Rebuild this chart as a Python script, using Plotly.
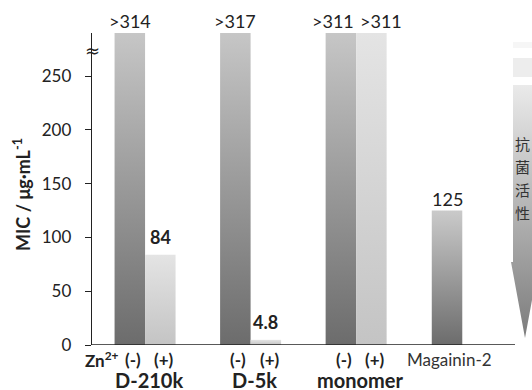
import plotly.graph_objects as go

# ---- data ----
groups = ["D-210k", "D-5k", "monomer"]
mic_minus = [314, 317, 311]          # Zn2+ (-)
mic_plus = [84, 4.8, 311]            # Zn2+ (+)
label_minus = [">314", ">317", ">311"]
label_plus = ["84", "4.8", ">311"]
plus_bold = [True, True, False]
ref_name = "Magainin-2"
ref_value = 125
ref_label = "125"
y_ticks = [0, 50, 100, 150, 200, 250]
y_cap = 290
arrow_text = "抗菌活性"

FONT = "Lato"
TXT = "#222222"

# ---- layout helpers (positions in bar-width units) ----
PX = 30.5                # pixels per x unit
X_MAX = 440 / PX
PY = 312 / y_cap         # pixels per y unit
first_center, step = 1.74, 3.46
centers = [first_center + step * i for i in range(len(groups))]
ref_x = centers[-1] + 2.98
BW = 1.0
ROW1 = -14 / 312
ROW2 = -34.5 / 312

fig = go.Figure()


def bar(xc, value, dark, light):
    top = min(value, y_cap)
    x0, x1 = xc - BW / 2, xc + BW / 2
    fig.add_trace(go.Scatter(
        x=[x0, x1, x1, x0, x0], y=[0, 0, top, top, 0],
        mode="lines", line=dict(width=0), fill="toself",
        fillgradient=dict(type="vertical", start=0, stop=top,
                          colorscale=[[0, dark], [1, light]]),
        hoverinfo="skip", showlegend=False))


def label(x, y, text, size, xshift=0, color=TXT, xref="x", yref="paper", **kw):
    d = dict(x=x, y=y, xref=xref, yref=yref, text=text, showarrow=False,
             xanchor="center", yanchor="middle", xshift=xshift,
             font=dict(family=FONT, size=size, color=color))
    d.update(kw)
    return d


ann = []
same_top_shift = [(0, 0), (0, 0), (-8, 10)]
for i, g in enumerate(groups):
    xm = centers[i] - BW / 2
    xp = centers[i] + BW / 2
    bar(xm, mic_minus[i], "#6c6c6c", "#c6c6c6")
    bar(xp, mic_plus[i], "#c4c4c4", "#e4e4e4")
    for k, (xx, val, lab, bold) in enumerate(
            [(xm, mic_minus[i], label_minus[i], False),
             (xp, mic_plus[i], label_plus[i], plus_bold[i])]):
        ann.append(dict(x=xx, y=min(val, y_cap), xref="x", yref="y",
                        text=f"<b>{lab}</b>" if bold else lab,
                        showarrow=False, xanchor="center", yanchor="bottom",
                        xshift=same_top_shift[i][k],
                        yshift=5 if bold else -1,
                        font=dict(family=FONT, size=18, color=TXT)))
    ann.append(label(xm, ROW1, "<b>(-)</b>", 17, xshift=3))
    ann.append(label(xp, ROW1, "<b>(+)</b>", 17, xshift=4))
    ann.append(label(centers[i], ROW2, f"<b>{g}</b>", 20, xshift=4))

bar(ref_x, ref_value, "#6c6c6c", "#cacaca")
ann.append(dict(x=ref_x, y=ref_value, xref="x", yref="y", text=ref_label,
                showarrow=False, xanchor="center", yanchor="bottom", yshift=-1,
                font=dict(family=FONT, size=18, color=TXT)))
ann.append(label(ref_x, ROW1, ref_name, 17, xshift=2, color="#333333"))
ann.append(label(centers[0] - BW / 2, ROW1, "<b>Zn<sup>2+</sup></b>", 17, xshift=-28))

# y-axis title
ann.append(label(-70 / 440, (345 - 195) / 312, "<b>MIC / μg·mL<sup>-1</sup></b>", 18,
                 xref="paper", textangle=-90))
# axis break
ann.append(dict(x=0, y=(345 - 50) / PY, xref="x", yref="y", text="≈", showarrow=False,
                xanchor="center", yanchor="middle",
                font=dict(family="DejaVu Sans", size=18, color=TXT)))

# ---- activity arrow on the right ----
ac = (525 - 92) / PX
sh, hh = 12 / PX, 14 / PX
y_shaft_top, y_head, y_tip = (345 - 85) / PY, (345 - 262) / PY, (345 - 338) / PY
fig.add_trace(go.Scatter(
    x=[ac - sh, ac + sh, ac + sh, ac + hh, ac, ac - hh, ac - sh, ac - sh],
    y=[y_shaft_top, y_shaft_top, y_head, y_head, y_tip, y_head, y_head, y_shaft_top],
    mode="lines", line=dict(width=0), fill="toself",
    fillgradient=dict(type="vertical", start=y_tip, stop=y_shaft_top,
                      colorscale=[[0, "#7c7c7c"], [1, "#eaeaea"]]),
    hoverinfo="skip", showlegend=False))
for p0, p1, col in [(77, 58, "#ededed"), (48, 42, "#f6f6f6")]:
    yb0, yb1 = (345 - p0) / PY, (345 - p1) / PY
    fig.add_trace(go.Scatter(
        x=[ac - sh, ac + sh, ac + sh, ac - sh, ac - sh],
        y=[yb0, yb0, yb1, yb1, yb0], mode="lines", line=dict(width=0),
        fill="toself", fillcolor=col, hoverinfo="skip", showlegend=False))
# vertical text, one upright character per line
for j, ch in enumerate(arrow_text):
    ann.append(dict(x=(522 - 92) / PX, y=(345 - (143 + 23 * j)) / PY, xref="x", yref="y",
                    text=ch, showarrow=False, xanchor="center", yanchor="middle",
                    font=dict(family="Noto Sans CJK SC", size=15, color="#333333")))

fig.add_shape(type="line", xref="x", yref="y", x0=0, x1=(515 - 92) / PX,
              y0=0, y1=0, line=dict(color="#222222", width=1.3))

fig.update_layout(
    width=532, height=390,
    margin=dict(l=92, r=0, t=33, b=45),
    paper_bgcolor="white", plot_bgcolor="white",
    showlegend=False,
    annotations=ann,
    xaxis=dict(range=[0, X_MAX], visible=False, fixedrange=True),
    yaxis=dict(range=[0, y_cap], tickvals=y_ticks, showgrid=False, zeroline=False,
               showline=True, linecolor="#222222", linewidth=1.3,
               ticks="outside", ticklen=6, tickcolor="#222222",
               ticklabelstandoff=10, automargin=False, fixedrange=True,
               tickfont=dict(family=FONT, size=17, color=TXT)),
)

# remove the browser's default 8px body margin so the figure fills the window
fig.write_html("out.html",
               config={"displayModeBar": False, "staticPlot": True},
               post_script="document.body.style.margin='0';"
                           "document.body.style.overflow='hidden';")
